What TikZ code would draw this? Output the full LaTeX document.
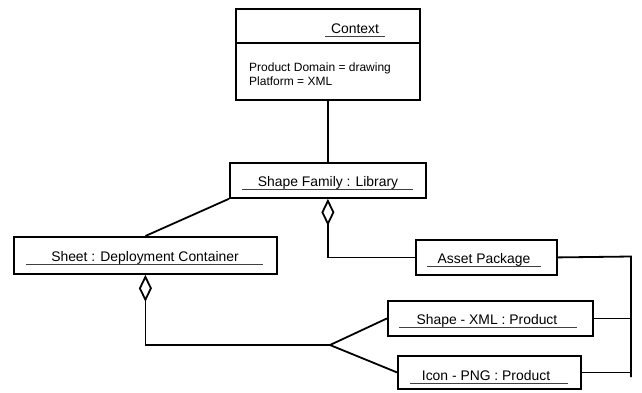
\documentclass[tikz,border=0pt]{standalone}
\usepackage{fontspec}
\setmainfont{Liberation Sans}
\usetikzlibrary{arrows.meta}

\tikzset{
  box/.style={draw, line width=1.8pt, rectangle, inner sep=0pt, anchor=north west},
  title/.style={anchor=base, inner sep=0pt, font=\fontsize{13.9}{16}\selectfont},
  attr/.style={anchor=base west, inner sep=0pt, font=\fontsize{12}{14}\selectfont},
  uline/.style={line width=0.9pt, black!75},
  link/.style={line width=1.8pt},
  aggr/.style={link, {Diamond[open, length=27pt, width=13pt, line width=1.8pt]}-},
}

\begin{document}
\begin{tikzpicture}[x=1pt, y=-1pt]
  \useasboundingbox (0,0) rectangle (642,392);

  % class boxes
  \node[box, minimum width=184pt, minimum height=91pt] (ctx)   at (235,8)   {};
  \node[box, minimum width=196pt, minimum height=35pt] (fam)   at (229,162) {};
  \node[box, minimum width=263pt, minimum height=37pt] (sheet) at (13,236)  {};
  \node[box, minimum width=141pt, minimum height=35pt] (asset) at (415,239) {};
  \node[box, minimum width=205pt, minimum height=35pt] (sxml)  at (387,300) {};
  \node[box, minimum width=183pt, minimum height=33pt] (icon)  at (397,355) {};

  % context compartment and attributes
  \draw[link] (ctx.west |- 0,43) -- (ctx.east |- 0,43);
  \node[title] (ctxname) at (355,33) {Context};
  \draw[uline] (325,36) -- (385,36);
  \node[attr] (attr1) at (249,71) {Product Domain = drawing};
  \node[attr] (attr2) at (249,85) {Platform = XML};

  % object names, underlined
  \node[title] (famname) at (328,186) {Shape Family : Library};
  \draw[uline] (242,189) -- (413,189);
  \node[title] (sheetname) at (145,261) {Sheet : Deployment Container};
  \draw[uline] (26,264) -- (263,264);
  \node[title] (assetname) at (484,263) {Asset Package};
  \draw[uline] (427,266) -- (541,266);
  \node[title] (sxmlname) at (487,324) {Shape - XML : Product};
  \draw[uline] (399,327) -- (577,327);
  \node[title] (iconname) at (486,380) {Icon - PNG : Product};
  \draw[uline] (410,383) -- (568,383);

  % connectors
  \draw[link] (fam.north) -- (fam.north |- ctx.south);
  \draw[link] (sheet.north) -- (fam.south west);
  \draw[aggr] (fam.south) |- (asset.west);

  \coordinate (fork) at (330,345);
  \draw[aggr] (sheet.south) |- (fork);
  \draw[link] (fork) -- (sxml.west);
  \draw[link] (fork) -- (icon.west);

  \coordinate (bustop) at (631,256.5);
  \coordinate (busend) at (631,377);
  \draw[link] (asset.east) -- (bustop) -- (busend);
  \draw[link] (sxml.east) -- (sxml.east -| bustop);
  \draw[link] (icon.east) -- (icon.east -| bustop);
\end{tikzpicture}
\end{document}
